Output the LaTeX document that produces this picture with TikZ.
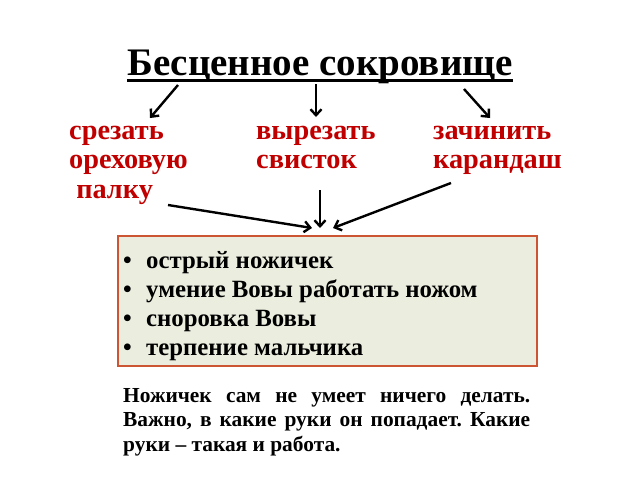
\documentclass[tikz,border=0pt]{standalone}
\usepackage{fontspec}
\setmainfont{Liberation Serif}
\usetikzlibrary{positioning,arrows.meta}
\definecolor{wordred}{HTML}{C00000}
\definecolor{boxfill}{HTML}{EBEEDF}
\definecolor{boxline}{HTML}{CC5533}
\tikzstyle{title} = [font=\fontsize{39}{44}\selectfont\bfseries, anchor=base, inner sep=0pt]
\tikzstyle{word} = [text=wordred, font=\fontsize{28.3}{29.3}\selectfont\bfseries, align=left, anchor=north west, inner sep=0pt]
\tikzstyle{list} = [draw=boxline, line width=1.8pt, fill=boxfill, minimum width=419pt, minimum height=130pt, anchor=north west]
\tikzstyle{item} = [font=\fontsize{24.8}{29.2}\selectfont\bfseries, align=left, anchor=north west, inner sep=0pt]
\tikzstyle{note} = [font=\fontsize{21.4}{24.5}\selectfont\bfseries\frenchspacing, text width=407pt, align=justify, anchor=north west, inner sep=0pt]
\tikzstyle{arrow} = [line width=2.4pt, -{Straight Barb[length=6pt, width=11pt]}]

\begin{document}
\begin{tikzpicture}[x=1pt, y=-1pt]
\useasboundingbox (0,0) rectangle (640,480);

\node (head) [title] at (320,75) {Бесценное сокровище};
\draw [line width=2.4pt] ([yshift=-5.5pt]head.base west) -- ([yshift=-5.5pt]head.base east);

\node (cut) [word] at (69,126) {срезать\\ореховую\\\hspace{0.25em}палку};
\node (carve) [word] at (256,126) {вырезать\\свисток};
\node (sharpen) [word] at (433,126) {зачинить\\карандаш};

\node (box) [list] at (117,235) {};
\node (items) [item] at (123,251) {\makebox[23pt][l]{•}острый ножичек\\
\makebox[23pt][l]{•}умение Вовы работать ножом\\
\makebox[23pt][l]{•}сноровка Вовы\\
\makebox[23pt][l]{•}терпение мальчика};

\node (moral) [note] at (123,388) {Ножичек сам не умеет ничего делать.\linebreak Важно, в какие руки он попадает. Какие\linebreak руки – такая и работа.};

\node[coordinate] (h1) at (178,85) {};
\node[coordinate] (h2) at (316,84) {};
\node[coordinate] (h3) at (464,89) {};
\node[coordinate] (c1) at (150,118) {};
\node[coordinate] (c2) at (316,117) {};
\node[coordinate] (c3) at (490,118) {};
\node[coordinate] (w1) at (168,205) {};
\node[coordinate] (w2) at (320,190) {};
\node[coordinate] (w3) at (451,183) {};
\node[coordinate] (b1) at (312,228) {};
\node[coordinate] (b2) at (320,228) {};
\node[coordinate] (b3) at (333,228) {};

\draw [arrow] (h1) -- (c1);
\draw [arrow] (h2) -- (c2);
\draw [arrow] (h3) -- (c3);
\draw [arrow] (w1) -- (b1);
\draw [arrow] (w2) -- (b2);
\draw [arrow] (w3) -- (b3);
\end{tikzpicture}
\end{document}
